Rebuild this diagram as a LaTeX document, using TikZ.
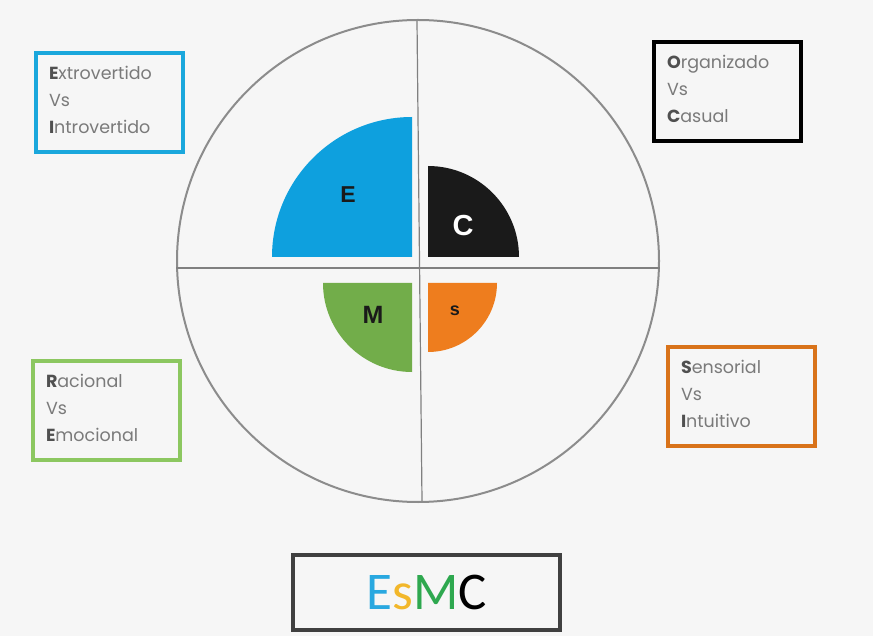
\documentclass[tikz,border=0pt]{standalone}
\usepackage{fontspec}
\setmainfont{Poppins}
\newfontfamily\calib{Carlito}
\newfontfamily\lsans{Liberation Sans}
\definecolor{bgc}{HTML}{F6F6F6}
\definecolor{cblue}{HTML}{0EA0DE}
\definecolor{cblack}{HTML}{1A1A1A}
\definecolor{cgreen}{HTML}{72AD4A}
\definecolor{corange}{HTML}{EE7D1E}
\definecolor{bblue}{HTML}{1AA7DC}
\definecolor{bgreen}{HTML}{8CC760}
\definecolor{borange}{HTML}{D9731A}
\definecolor{txt}{HTML}{7A7A7A}
\definecolor{txtb}{HTML}{505050}
\definecolor{lblue}{HTML}{29A8E0}
\definecolor{lyellow}{HTML}{F2B72A}
\definecolor{lgreen}{HTML}{2EA84F}
\begin{document}
\begin{tikzpicture}[x=1pt,y=-1pt,
  infobox/.style={draw, line width=4pt, fill=bgc, text width=121pt, inner xsep=13pt,
     minimum height=99pt, align=left, text=txt, font=\fontsize{17.5}{27}\selectfont},
  wedgelabel/.style={text=cblack}]
\useasboundingbox (0,0) rectangle (873,636);
\fill[bgc] (0,0) rectangle (873,636);
% circle and dividers
\node[circle, draw=gray!90, line width=2pt, minimum size=482pt, inner sep=0pt] (circ) at (418,261) {};
\coordinate (vtop) at (417,21);
\coordinate (vbot) at (422,501);
\coordinate (hl) at (176,268);
\coordinate (hr) at (660,268);
\draw[gray, line width=1.2pt] (vtop) -- (vbot);
\draw[gray, line width=1.2pt] (hl) -- (hr);
% wedges
\fill[cblue] (412,257) -- (272,257) arc[start angle=180, end angle=270, radius=140] -- cycle;
\fill[cblack] (428,257) -- (428,166) arc[start angle=270, end angle=360, radius=91] -- cycle;
\fill[cgreen] (412,283) -- (412,372) arc[start angle=90, end angle=180, radius=89] -- cycle;
\fill[corange] (428,283) -- (497,283) arc[start angle=0, end angle=90, radius=69] -- cycle;
\node[wedgelabel, font=\lsans\fontsize{23}{23}\selectfont\bfseries] (le) at (348,195) {E};
\node[wedgelabel, text=white, font=\lsans\fontsize{29}{29}\selectfont\bfseries] (lc) at (463,226) {C};
\node[wedgelabel, font=\lsans\fontsize{25}{25}\selectfont\bfseries] (lm) at (373,315) {M};
\node[wedgelabel, font=\lsans\fontsize{18}{18}\selectfont\bfseries] (ls) at (455,311) {s};
% info boxes
\node[infobox, draw=bblue] (bE) at (109.5,102.5) {{\color{txtb}\bfseries E}xtrovertido\\Vs\\{\color{txtb}\bfseries I}ntrovertido\vspace{5pt}};
\node[infobox, draw=black] (bC) at (727.5,91.5) {{\color{txtb}\bfseries O}rganizado\\Vs\\{\color{txtb}\bfseries C}asual\vspace{5pt}};
\node[infobox, draw=bgreen] (bM) at (106.5,410.5) {{\color{txtb}\bfseries R}acional\\Vs\\{\color{txtb}\bfseries E}mocional\vspace{5pt}};
\node[infobox, draw=borange] (bS) at (741.5,396.5) {{\color{txtb}\bfseries S}ensorial\\Vs\\{\color{txtb}\bfseries I}ntuitivo\vspace{5pt}};
% title box
\node[draw=black!75, line width=4pt, fill=bgc, minimum width=267pt, minimum height=75pt,
  font=\calib\fontsize{53}{53}\selectfont] (title) at (426.5,592.5)
  {{\color{lblue}E}{\color{lyellow}s}{\color{lgreen}M}{\color{black}C}};
\end{tikzpicture}
\end{document}
